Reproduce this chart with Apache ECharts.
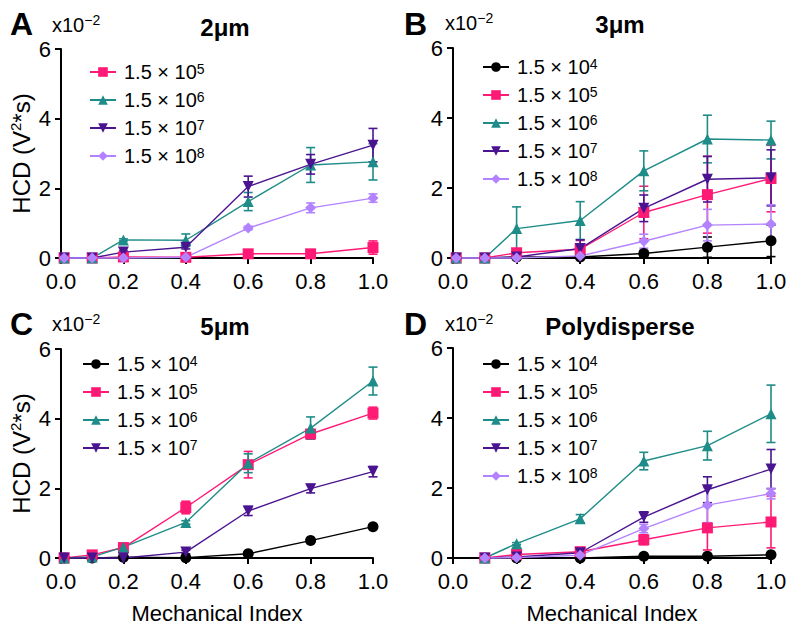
<!DOCTYPE html>
<html>
<head>
<meta charset="utf-8">
<script src="https://cdn.jsdelivr.net/npm/echarts@6/dist/echarts.min.js"></script>
<style>html,body{margin:0;padding:0;background:#fff}#c{width:792px;height:630px}</style>
</head>
<body>
<div id="c"></div>
<script>
// ---- data ----
const X7 = [0.01, 0.1, 0.2, 0.4, 0.6, 0.8, 1.0];
const X6 = [0.1, 0.2, 0.4, 0.6, 0.8, 1.0];
const yTicks = [0, 2, 4, 6];
const xTicks = [0.0, 0.2, 0.4, 0.6, 0.8, 1.0];
const panelTitles = ['2μm', '3μm', '5μm', 'Polydisperse'];
const panelLetters = ['A', 'B', 'C', 'D'];

// Panel A (2 µm)
const A_e5 = [0, 0, 0.03, 0.02, 0.12, 0.12, 0.30];
const A_e5_err = [0, 0, 0.02, 0.02, 0.05, 0.05, 0.19];
const A_e6 = [0, 0, 0.52, 0.51, 1.62, 2.67, 2.76];
const A_e6_err = [0, 0, 0.03, 0.18, 0.26, 0.50, 0.52];
const A_e7 = [0, 0, 0.17, 0.31, 2.05, 2.69, 3.24];
const A_e7_err = [0, 0, 0.03, 0.05, 0.30, 0.28, 0.48];
const A_e8 = [0, 0, 0, 0.02, 0.86, 1.44, 1.72];
const A_e8_err = [0, 0, 0, 0.01, 0.05, 0.14, 0.12];

// Panel B (3 µm)
const B_e4 = [0, 0, 0.03, 0.03, 0.13, 0.31, 0.49];
const B_e4_err = [0, 0, 0.02, 0.03, 0.08, 0.29, 0.45];
const B_e5 = [0, 0, 0.15, 0.25, 1.30, 1.81, 2.27];
const B_e5_err = [0, 0, 0.05, 0.25, 0.75, 1.10, 0.95];
const B_e6 = [0, 0, 0.84, 1.07, 2.49, 3.40, 3.37];
const B_e6_err = [0, 0, 0.62, 0.54, 0.57, 0.68, 0.54];
const B_e7 = [0, 0, 0.03, 0.27, 1.42, 2.25, 2.29];
const B_e7_err = [0, 0, 0.02, 0.25, 0.38, 0.65, 0.80];
const B_e8 = [0, 0, 0, 0.06, 0.48, 0.94, 0.97];
const B_e8_err = [0, 0, 0, 0.05, 0.20, 0.45, 0.55];

// Panel C (5 µm)
const C_e4 = [0, 0, 0.02, 0.01, 0.12, 0.50, 0.90];
const C_e4_err = [0, 0, 0.01, 0.01, 0.03, 0.04, 0.05];
const C_e5 = [0, 0.09, 0.30, 1.45, 2.68, 3.56, 4.16];
const C_e5_err = [0, 0.03, 0.05, 0.18, 0.38, 0.12, 0.17];
const C_e6 = [0, 0.03, 0.31, 1.02, 2.72, 3.73, 5.08];
const C_e6_err = [0, 0.01, 0.03, 0.05, 0.27, 0.32, 0.40];
const C_e7 = [0, 0, 0, 0.17, 1.35, 1.99, 2.48];
const C_e7_err = [0, 0, 0, 0.05, 0.13, 0.12, 0.15];

// Panel D (Polydisperse)
const D_e4 = [0, 0, 0, 0.05, 0.05, 0.09];
const D_e4_err = [0, 0, 0, 0.01, 0.01, 0.02];
const D_e5 = [0, 0.10, 0.18, 0.52, 0.86, 1.03];
const D_e5_err = [0, 0.03, 0.05, 0.14, 0.63, 0.74];
const D_e6 = [0, 0.41, 1.12, 2.77, 3.21, 4.12];
const D_e6_err = [0, 0.03, 0.12, 0.25, 0.41, 0.82];
const D_e7 = [0, 0.03, 0.15, 1.17, 1.95, 2.54];
const D_e7_err = [0, 0.02, 0.04, 0.15, 0.37, 0.56];
const D_e8 = [0, 0.01, 0.08, 0.84, 1.51, 1.84];
const D_e8_err = [0, 0, 0.03, 0.12, 0.50, 0.15];

// ---- styles ----
const FONT = '"Liberation Sans", Arial, sans-serif';
const STYLE = {
  '4': {color: '#000000', symbol: 'circle', size: 11},
  '5': {color: '#FF1A75', symbol: 'rect', size: 11},
  '6': {color: '#1E8C88', symbol: 'triangle', size: 11},
  '7': {color: '#4A1490', symbol: 'path://M0,0 L10,0 L5,9 Z', size: 11},
  '8': {color: '#B383FF', symbol: 'diamond', size: 11}
};

const panels = [
  {xs: X7, sets: [['5', A_e5, A_e5_err], ['6', A_e6, A_e6_err], ['7', A_e7, A_e7_err], ['8', A_e8, A_e8_err]]},
  {xs: X7, sets: [['4', B_e4, B_e4_err], ['5', B_e5, B_e5_err], ['6', B_e6, B_e6_err], ['7', B_e7, B_e7_err], ['8', B_e8, B_e8_err]]},
  {xs: X7, sets: [['4', C_e4, C_e4_err], ['5', C_e5, C_e5_err], ['6', C_e6, C_e6_err], ['7', C_e7, C_e7_err]]},
  {xs: X6, sets: [['4', D_e4, D_e4_err], ['5', D_e5, D_e5_err], ['6', D_e6, D_e6_err], ['7', D_e7, D_e7_err], ['8', D_e8, D_e8_err]]}
];

const grids = [
  {left: 61, top: 49, width: 312, height: 209},
  {left: 453, top: 48, width: 318, height: 210},
  {left: 61, top: 349, width: 312, height: 209},
  {left: 453, top: 348, width: 318, height: 210}
];
const legendPos = [
  {left: 84, top: 57},
  {left: 477, top: 52},
  {left: 77, top: 349},
  {left: 477, top: 349}
];

const xAxes = [], yAxes = [], series = [], legends = [];
grids.forEach((g, gi) => {
  xAxes.push({
    type: 'value', gridIndex: gi, min: 0, max: 1, interval: 0.2,
    axisLine: {show: true, onZero: false, lineStyle: {color: '#000', width: 2}},
    axisTick: {show: true, length: 6, lineStyle: {color: '#000', width: 2}},
    axisLabel: {color: '#000', fontSize: 22, fontFamily: FONT, margin: 12,
      formatter: v => xTicks.find(t => Math.abs(t - v) < 1e-9) !== undefined ? v.toFixed(1) : ''},
    splitLine: {show: false},
    name: gi >= 2 ? 'Mechanical Index' : '',
    nameLocation: 'middle', nameGap: 44,
    nameTextStyle: {color: '#000', fontSize: 22, fontFamily: FONT}
  });
  yAxes.push({
    type: 'value', gridIndex: gi, min: 0, max: 6, interval: 2,
    axisLine: {show: true, lineStyle: {color: '#000', width: 2}},
    axisTick: {show: true, length: 6, lineStyle: {color: '#000', width: 2}},
    axisLabel: {color: '#000', fontSize: 22, fontFamily: FONT, margin: 10,
      formatter: v => yTicks.indexOf(v) >= 0 ? String(v) : ''},
    splitLine: {show: false},
    name: (gi === 0 || gi === 2) ? '{n|HCD (V}{s|2}{n|*s)}' : '',
    nameLocation: 'middle', nameGap: 27, nameRotate: 90,
    nameTextStyle: {color: '#000', fontFamily: FONT,
      rich: {n: {fontSize: 24, fontFamily: FONT, color: '#000', lineHeight: 26},
             s: {fontSize: 15, fontFamily: FONT, color: '#000', verticalAlign: 'top', lineHeight: 26}}}
  });
  const p = panels[gi];
  const names = [];
  p.sets.forEach(([k, ys, es]) => {
    const st = STYLE[k];
    const name = panelLetters[gi] + '-' + k;
    names.push(name);
    // error bars
    series.push({
      type: 'custom', xAxisIndex: gi, yAxisIndex: gi, name: name + '-err', z: 2, clip: false,
      silent: true,
      itemStyle: {color: st.color},
      data: p.xs.map((x, i) => [x, ys[i] - es[i], ys[i] + es[i]]).filter((d, i) => es[i] > 0),
      renderItem: (params, api) => {
        const x = api.value(0);
        const lo = api.coord([x, api.value(1)]);
        const hi = api.coord([x, api.value(2)]);
        const w = 4.5;
        const ls = {stroke: st.color, lineWidth: 1.6};
        return {type: 'group', children: [
          {type: 'line', shape: {x1: lo[0], y1: lo[1], x2: hi[0], y2: hi[1]}, style: ls},
          {type: 'line', shape: {x1: hi[0] - w, y1: hi[1], x2: hi[0] + w, y2: hi[1]}, style: ls},
          {type: 'line', shape: {x1: lo[0] - w, y1: lo[1], x2: lo[0] + w, y2: lo[1]}, style: ls}
        ]};
      }
    });
    series.push({
      type: 'line', name: name, xAxisIndex: gi, yAxisIndex: gi, z: 3, clip: false,
      data: p.xs.map((x, i) => [x, ys[i]]),
      symbol: st.symbol, symbolSize: st.size, showAllSymbol: true,
      color: st.color,
      lineStyle: {color: st.color, width: 1.4},
      itemStyle: {color: st.color},
      animation: false
    });
  });
  legends.push({
    data: names, orient: 'vertical', left: legendPos[gi].left, top: legendPos[gi].top,
    itemWidth: 26, itemHeight: 12, itemGap: 8, selectedMode: false,
    formatter: n => '{t|1.5 × 10}{s|' + n.split('-')[1] + '}',
    textStyle: {fontFamily: FONT, color: '#000',
      rich: {t: {fontSize: 20, fontFamily: FONT, color: '#000', lineHeight: 20, padding: [0, 0, 0, 3]},
             s: {fontSize: 14, fontFamily: FONT, color: '#000', lineHeight: 20, verticalAlign: 'top'}}}
  });
});

// texts: letters, multipliers, titles
const textPos = [
  {lx: 10, ly: 25, mx: 52, my: 27, tx: 225, ty: 27},
  {lx: 404, ly: 25, mx: 445, my: 25, tx: 620, ty: 24},
  {lx: 10, ly: 325, mx: 52, my: 326, tx: 225, ty: 326},
  {lx: 404, ly: 325, mx: 445, my: 326, tx: 620, ty: 326}
];
const graphics = [];
textPos.forEach((t, i) => {
  graphics.push({type: 'text', left: t.lx, top: t.ly - 17, style: {
    text: panelLetters[i], font: 'bold 32px ' + FONT, fill: '#000'}});
  graphics.push({type: 'text', left: t.mx, top: t.my - 14, style: {
    text: '{a|x10}{b|−2}', fill: '#000',
    rich: {a: {fontSize: 20, fontFamily: FONT, fill: '#000', lineHeight: 24},
           b: {fontSize: 14, fontFamily: FONT, fill: '#000', lineHeight: 24, verticalAlign: 'top'}}}});
  graphics.push({type: 'text', x: t.tx, y: t.ty, style: {
    text: panelTitles[i], font: 'bold 24px ' + FONT, fill: '#000', align: 'center', verticalAlign: 'middle'}});
});

const chart = echarts.init(document.getElementById('c'), null, {renderer: 'svg'});
chart.setOption({
  animation: false,
  backgroundColor: '#fff',
  grid: grids,
  xAxis: xAxes,
  yAxis: yAxes,
  legend: legends,
  series: series,
  graphic: graphics
});
</script>
</body>
</html>
